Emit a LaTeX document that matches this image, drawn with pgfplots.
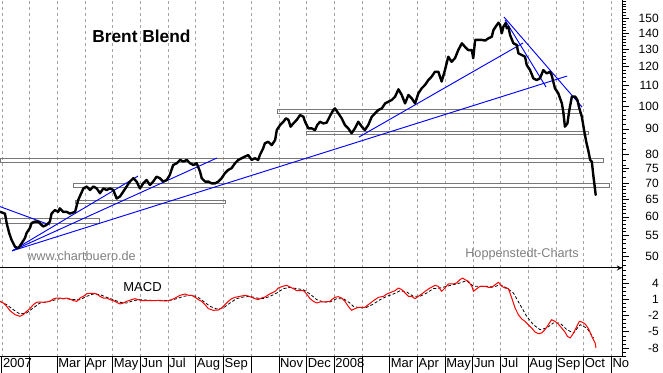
\documentclass[border=0pt]{standalone}
\usepackage{fontspec}
\setmainfont{Liberation Sans}
\usepackage{pgfplots}
\pgfplotsset{compat=1.18}
\definecolor{gridgray}{RGB}{165,165,165}
\definecolor{bandgray}{RGB}{120,120,120}
\definecolor{txtgray}{RGB}{128,128,128}
\definecolor{tlblue}{RGB}{0,0,255}
\begin{document}
\begin{tikzpicture}
\path[use as bounding box] (0,0) rectangle (497.25pt,279.75pt);
\pgfplotsset{
  panel/.style={
    scale only axis, width=466.5pt,
    xmin=-0.07, xmax=22.38,
    xtick={0,...,22}, xticklabels={},
    xtick style={draw=none},
    xmajorgrids,
    major grid style={gridgray, line width=0.6pt, dash pattern=on 2.25pt off 2.25pt},
    axis y line=right,
    axis line style={-, line width=0.75pt},
    tick align=outside,
    major tick length=5.25pt, minor tick length=3pt,
    every tick/.style={black, line width=0.5pt},
    /pgf/number format/assume math mode=true,
    yticklabel style={anchor=east, inner sep=0pt, xshift=22.5pt, font=\fontsize{9}{10}\selectfont},
  },
  band/.style={bandgray, line width=0.55pt},
  tl/.style={tlblue, line width=0.7pt},
}
% ---------------- upper panel: price ----------------
\begin{axis}[panel,
  at={(0pt,78.75pt)}, anchor=south west, height=201pt,
  ymode=log, ymin=47.4, ymax=163,
  axis x line=bottom,
  ytick={50,55,60,65,70,75,80,90,100,110,120,130,140,150},
  yticklabels={50,55,60,65,70,75,80,90,100,110,120,130,140,150},
  minor ytick={48,49,...,70,72,74,...,162},
]
% horizontal bands
\addplot[band] coordinates {(-0.07,77.3) (21.70,77.3) (21.70,78.7) (-0.07,78.7) (-0.07,77.3)};
\addplot[band] coordinates {(2.56,68.8) (21.91,68.8) (21.91,70.1) (2.56,70.1) (2.56,68.8)};
\addplot[band] coordinates {(2.64,63.9) (8.05,63.9) (8.05,64.8) (2.64,64.8) (2.64,63.9)};
\addplot[band] coordinates {(-0.07,58.3) (3.50,58.3) (3.50,59.7) (-0.07,59.7) (-0.07,58.3)};
\addplot[band] coordinates {(9.93,96.8) (20.83,96.8) (20.83,98.6) (9.93,98.6) (9.93,96.8)};
\addplot[band] coordinates {(10.97,87.9) (21.16,87.9) (21.16,89.1) (10.97,89.1) (10.97,87.9)};
% trend lines
\addplot[tl] coordinates {(-0.07,62.9) (1.73,57.8)};
\addplot[tl] coordinates {(0.37,51.3) (4.91,72.4)};
\addplot[tl] coordinates {(0.37,51.3) (7.76,78.7)};
\addplot[tl] coordinates {(0.37,51.3) (20.40,114.8)};
\addplot[tl] coordinates {(12.89,86.7) (18.81,133.7)};
\addplot[tl] coordinates {(18.12,150.7) (20.94,99.5)};
\addplot[tl] coordinates {(18.16,148.6) (19.64,109.1)};
% price
\addplot[black, line width=1.8pt, line join=round, line cap=round] coordinates {
(-0.07,61.4)(0.11,60.9)(0.17,58.3)(0.26,55.7)(0.35,53.9)(0.47,52.3)(0.59,51.9)(0.71,53.1)(0.83,54.4)(0.89,55.7)
(1.01,57.0)(1.07,58.3)(1.19,58.7)(1.31,58.7)(1.43,57.8)(1.49,57.4)(1.61,57.8)(1.73,58.7)(1.79,60.9)(1.91,61.9)
(2.03,61.4)(2.09,62.4)(2.21,61.4)(2.34,61.4)(2.45,60.9)(2.64,61.4)(2.75,64.8)(2.94,68.4)(3.06,69.0)(3.18,67.9)
(3.30,69.0)(3.42,68.4)(3.54,66.9)(3.66,68.4)(3.78,67.9)(3.90,68.4)(4.02,67.9)(4.14,65.3)(4.26,65.9)(4.38,67.4)
(4.50,69.0)(4.62,70.6)(4.74,71.7)(4.86,70.6)(4.98,68.4)(5.10,70.0)(5.22,71.1)(5.34,69.5)(5.46,70.6)(5.58,72.2)
(5.70,71.7)(5.82,70.6)(5.95,71.1)(6.06,72.8)(6.18,76.2)(6.31,76.8)(6.43,78.0)(6.55,77.4)(6.67,78.0)(6.79,76.8)
(6.91,76.2)(7.03,76.8)(7.15,73.9)(7.21,71.7)(7.33,70.6)(7.45,70.6)(7.57,70.0)(7.69,70.0)(7.81,70.6)(7.93,71.7)
(8.05,73.4)(8.17,74.5)(8.29,75.1)(8.41,76.8)(8.53,78.0)(8.65,78.6)(8.77,79.2)(8.89,79.8)(9.01,78.0)(9.13,78.6)
(9.25,78.0)(9.31,79.8)(9.43,82.3)(9.49,84.2)(9.61,84.8)(9.74,83.5)(9.86,85.5)(9.92,89.5)(10.04,91.6)(10.16,93.0)
(10.25,94.5)(10.34,93.8)(10.42,90.9)(10.52,92.3)(10.64,93.8)(10.76,95.9)(10.88,95.2)(10.94,93.0)(11.06,90.2)(11.18,90.2)
(11.30,89.5)(11.38,91.6)(11.48,93.0)(11.60,92.3)(11.72,92.6)(11.84,95.5)(11.96,98.2)(12.02,98.9)(12.14,96.7)(12.26,94.5)
(12.38,91.6)(12.50,90.2)(12.62,88.2)(12.74,90.2)(12.86,93.0)(12.99,90.9)(13.10,89.5)(13.22,91.6)(13.35,95.2)(13.47,96.7)
(13.59,98.2)(13.71,98.9)(13.83,101.2)(13.95,102.0)(14.07,102.8)(14.19,104.4)(14.31,108.0)(14.43,105.2)(14.55,101.2)(14.67,105.2)
(14.79,103.6)(14.91,101.2)(15.03,106.0)(15.15,108.5)(15.27,110.2)(15.39,112.7)(15.51,114.5)(15.63,117.1)(15.75,117.1)(15.87,111.9)
(15.99,118.0)(16.11,125.5)(16.23,122.6)(16.35,124.6)(16.47,129.4)(16.60,133.5)(16.71,131.4)(16.83,129.4)(16.96,129.4)(17.01,124.6)
(17.08,135.6)(17.20,135.6)(17.32,135.6)(17.44,135.2)(17.56,136.6)(17.68,137.6)(17.74,141.9)(17.82,144.1)(17.92,146.8)(17.98,145.3)
(18.04,139.8)(18.10,144.1)(18.18,146.5)(18.22,143.1)(18.28,144.1)(18.34,138.7)(18.46,133.5)(18.58,132.5)(18.64,127.5)(18.76,126.5)
(18.88,125.5)(18.94,120.8)(19.06,118.0)(19.18,113.6)(19.30,112.7)(19.42,113.6)(19.54,118.0)(19.66,116.2)(19.78,117.1)(19.84,115.3)
(19.96,108.5)(20.08,106.0)(20.21,101.2)(20.26,97.4)(20.32,90.9)(20.41,92.3)(20.48,98.2)(20.57,104.4)(20.69,104.4)(20.77,102.8)
(20.84,98.9)(20.93,95.2)(21.01,89.5)(21.10,84.2)(21.16,81.6)(21.23,78.0)(21.29,77.4)(21.35,72.2)(21.41,67.9)(21.43,66.4)
};
\end{axis}
% ---------------- lower panel: MACD ----------------
\begin{axis}[panel,
  at={(0pt,12pt)}, anchor=south west, height=66.75pt,
  ymin=-9.65, ymax=6.77,
  axis x line=box,
  ytick={-8,-5,-2,1,4},
  minor ytick={-9.5,-8.75,...,6.5},
]
\addplot[black, line width=0.6pt, dash pattern=on 2.25pt off 1.5pt] coordinates {
(-0.07,0.62)(0.17,0.00)(0.41,-0.92)(0.65,-1.72)(0.89,-1.53)(1.13,-0.61)(1.37,0.31)(1.61,0.50)(1.85,0.80)(2.09,1.11)
(2.33,1.11)(2.58,0.93)(2.82,0.93)(3.06,1.54)(3.30,1.97)(3.54,1.85)(3.78,1.36)(4.02,0.93)(4.26,0.44)(4.50,0.31)
(4.74,0.74)(4.98,0.93)(5.34,0.80)(5.70,0.74)(6.07,0.80)(6.31,1.11)(6.55,1.54)(6.79,1.73)(7.03,1.54)(7.27,0.62)
(7.51,-0.30)(7.75,-0.79)(7.99,-0.61)(8.23,0.31)(8.47,1.11)(8.71,1.42)(8.95,1.54)(9.19,1.23)(9.43,1.11)(9.68,1.54)
(9.92,2.16)(10.16,2.96)(10.40,3.20)(10.64,2.96)(10.88,2.77)(11.12,1.97)(11.36,0.93)(11.60,0.50)(11.84,0.50)(12.08,1.11)
(12.32,1.11)(12.56,0.31)(12.68,-0.30)(12.92,-0.61)(13.16,-0.49)(13.41,0.13)(13.65,0.93)(13.89,1.54)(14.13,1.97)(14.37,2.59)
(14.61,2.34)(14.85,1.54)(15.09,1.54)(15.33,2.16)(15.57,2.96)(15.81,3.08)(16.05,3.39)(16.29,3.69)(16.53,4.00)(16.77,4.43)
(17.02,3.39)(17.26,3.39)(17.50,3.39)(17.74,3.26)(17.98,3.69)(18.22,3.08)(18.46,2.16)(18.70,0.00)(18.94,-2.15)(19.18,-3.69)
(19.42,-4.61)(19.66,-4.30)(19.90,-3.38)(20.14,-3.38)(20.39,-4.61)(20.63,-5.22)(20.87,-3.69)(21.11,-4.30)(21.35,-6.15)
};
\addplot[red, line width=0.75pt, line join=round] coordinates {
(-0.07,0.62)(0.05,0.31)(0.17,-0.30)(0.29,-1.10)(0.47,-1.84)(0.65,-2.15)(0.77,-1.84)(0.89,-1.23)(1.01,-0.73)(1.13,0.00)
(1.25,0.44)(1.37,0.50)(1.49,0.44)(1.61,0.50)(1.73,0.62)(1.85,1.05)(1.97,1.23)(2.09,1.23)(2.21,1.11)(2.33,1.23)
(2.45,1.05)(2.58,0.74)(2.70,0.62)(2.82,1.23)(2.94,1.54)(3.06,2.03)(3.18,2.10)(3.30,2.10)(3.42,1.97)(3.54,1.54)
(3.66,1.23)(3.78,1.23)(3.90,0.93)(4.02,0.74)(4.14,0.44)(4.26,0.13)(4.38,0.31)(4.50,0.62)(4.68,0.93)(4.80,1.11)
(4.92,0.93)(5.04,0.74)(5.22,0.74)(5.46,0.74)(5.70,0.80)(5.88,0.68)(6.00,0.74)(6.13,0.93)(6.25,1.23)(6.43,1.73)
(6.61,1.97)(6.73,1.73)(6.85,1.73)(6.97,1.36)(7.09,0.93)(7.21,0.62)(7.33,0.00)(7.45,-0.73)(7.63,-1.04)(7.81,-0.98)
(7.93,-0.61)(8.05,0.00)(8.17,0.62)(8.29,1.11)(8.41,1.36)(8.59,1.54)(8.77,1.73)(8.89,1.60)(9.01,1.36)(9.13,1.11)
(9.25,0.93)(9.37,1.23)(9.50,1.42)(9.62,1.85)(9.74,2.16)(9.86,2.46)(9.98,3.08)(10.13,3.39)(10.28,3.57)(10.40,3.26)
(10.52,2.96)(10.64,2.59)(10.76,2.59)(10.88,2.59)(11.00,1.97)(11.12,1.11)(11.24,0.62)(11.36,0.31)(11.48,0.50)(11.66,0.50)
(11.84,0.62)(11.90,0.93)(12.02,1.36)(12.14,1.48)(12.26,1.23)(12.38,0.62)(12.50,-0.30)(12.62,-1.04)(12.74,-0.73)(12.86,-0.49)
(12.98,-0.49)(13.10,-0.49)(13.22,0.00)(13.41,0.74)(13.59,1.36)(13.77,1.54)(13.89,1.97)(14.07,2.34)(14.19,2.59)(14.31,3.08)
(14.43,2.77)(14.55,2.16)(14.67,1.54)(14.79,1.54)(14.91,1.11)(15.03,1.54)(15.15,1.97)(15.27,2.46)(15.45,3.08)(15.63,3.57)
(15.75,3.39)(15.87,2.46)(15.99,3.08)(16.11,3.82)(16.29,3.82)(16.41,4.00)(16.53,4.62)(16.63,4.92)(16.71,4.62)(16.84,4.31)
(16.96,3.39)(17.02,2.46)(17.14,2.96)(17.26,3.39)(17.44,3.39)(17.56,3.20)(17.68,3.20)(17.80,3.69)(17.92,4.13)(18.04,3.39)
(18.16,3.08)(18.28,2.96)(18.40,1.23)(18.52,-0.61)(18.64,-1.84)(18.76,-2.64)(18.88,-3.07)(19.00,-3.69)(19.12,-4.30)(19.24,-5.04)
(19.36,-5.35)(19.48,-5.22)(19.60,-4.61)(19.72,-3.69)(19.84,-2.76)(19.96,-3.07)(20.08,-3.56)(20.20,-4.30)(20.32,-5.04)(20.41,-5.84)
(20.51,-6.15)(20.63,-5.22)(20.75,-4.00)(20.84,-3.07)(20.93,-3.19)(21.05,-3.56)(21.17,-4.42)(21.29,-5.84)(21.41,-7.07)(21.44,-7.99)
};
\end{axis}
% ---------------- month label row ----------------
\begin{axis}[
  at={(0pt,0pt)}, anchor=south west,
  scale only axis, width=466.5pt, height=12pt,
  xmin=-0.07, xmax=22.38, ymin=0, ymax=1,
  axis line style={draw=none},
  ytick=\empty,
  xtick={0,...,22},
  xticklabels={2007,,Mar,Apr,May,Jun,Jul,Aug,Sep,,Nov,Dec,2008,,Mar,Apr,May,Jun,Jul,Aug,Sep,Oct,No},
  xtick style={draw=none},
  xmajorgrids, major grid style={black, line width=0.75pt},
  xticklabel style={anchor=base west, inner sep=0pt, xshift=0.6pt, yshift=3.75pt, font=\fontsize{9.75}{11}\selectfont},
]
\end{axis}
% ---------------- texts ----------------
\node[font=\fontsize{13}{15}\selectfont\bfseries] at (106.1pt,252.75pt) {Brent Blend};
\node[font=\fontsize{9.5}{11}\selectfont, text=txtgray] at (61.1pt,87.75pt) {www.chartbuero.de};
\node[font=\fontsize{9.5}{11}\selectfont, text=txtgray] at (391.5pt,89.25pt) {Hoppenstedt-Charts};
\node[font=\fontsize{9.75}{11}\selectfont] at (106.9pt,64.5pt) {MACD};
\end{tikzpicture}
\end{document}
